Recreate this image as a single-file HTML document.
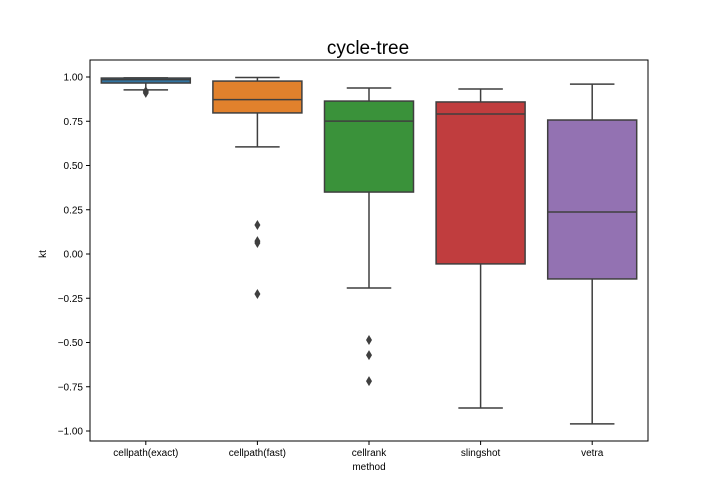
<!DOCTYPE html>
<html><head><meta charset="utf-8"><style>
body{margin:0;background:#fff}svg{display:block;font-family:"Liberation Sans",sans-serif}
</style></head><body>
<svg id="c" width="720" height="504">
<text x="368" y="54" font-size="19" text-anchor="middle">cycle-tree</text>
<text x="369" y="470" font-size="10" text-anchor="middle">method</text>
<text x="46" y="254" font-size="10" text-anchor="middle" transform="rotate(-90 46 254)">kt</text>
</svg>
<script>
const categories=["cellpath(exact)","cellpath(fast)","cellrank","slingshot","vetra"];
const whiskerLow=[0.927,0.605,-0.192,-0.870,-0.960];
const q1=[0.966,0.797,0.350,-0.056,-0.141];
const median=[0.985,0.872,0.751,0.791,0.237];
const q3=[0.994,0.977,0.864,0.859,0.757];
const whiskerHigh=[0.995,0.997,0.938,0.932,0.960];
const outliers=[[0.92,0.91],[0.164,0.073,0.062,-0.226],[-0.486,-0.571,-0.718],[],[]];
const yTicks=[-1,-0.75,-0.5,-0.25,0,0.25,0.5,0.75,1];
const colors=["#3274a1","#e1812c","#3a923a","#c03d3e","#9372b2"];
const L=90,R=648,T=60,B=441;
const y=v=>254-v*177;
const bw=(R-L)/categories.length;
const x=i=>L+bw*(i+0.5);
const svg=document.getElementById('c');
const NS="http://www.w3.org/2000/svg";
function mk(t,a,p){const e=document.createElementNS(NS,t);for(const k in a)e.setAttribute(k,a[k]);(p||svg).appendChild(e);return e;}
const ln="#3f3f3f";
yTicks.forEach(v=>{
 const t=mk('line',{x1:L-4,x2:L,y1:y(v),y2:y(v),stroke:'#000'});
 
 
 const lb=mk('text',{x:L-7,y:y(v)+3.5,'font-size':10,'text-anchor':'end'});
 lb.textContent=v.toFixed(2).replace('-','\u2212');
 
 
});
categories.forEach((c,i)=>{
 const cx=x(i),w=89,g=mk('g',{});
 
 
 mk('line',{x1:cx,x2:cx,y1:y(whiskerLow[i]),y2:y(q1[i]),stroke:ln,'stroke-width':1.5},g);
 mk('line',{x1:cx,x2:cx,y1:y(whiskerHigh[i]),y2:y(q3[i]),stroke:ln,'stroke-width':1.5},g);
 mk('line',{x1:cx-w/4,x2:cx+w/4,y1:y(whiskerLow[i]),y2:y(whiskerLow[i]),stroke:ln,'stroke-width':1.5},g);
 mk('line',{x1:cx-w/4,x2:cx+w/4,y1:y(whiskerHigh[i]),y2:y(whiskerHigh[i]),stroke:ln,'stroke-width':1.5},g);
 mk('rect',{x:cx-w/2,y:y(q3[i]),width:w,height:y(q1[i])-y(q3[i]),fill:colors[i],stroke:ln,'stroke-width':1.5},g);
 mk('line',{x1:cx-w/2,x2:cx+w/2,y1:y(median[i]),y2:y(median[i]),stroke:ln,'stroke-width':1.5},g);
 outliers[i].forEach(v=>{
  const p=mk('path',{d:`M${cx} ${y(v)-5}L${cx+3} ${y(v)}L${cx} ${y(v)+5}L${cx-3} ${y(v)}Z`,fill:ln},g);
  
  
 });
 mk('line',{x1:cx,x2:cx,y1:B,y2:B+4,stroke:'#000'});
 const lb=mk('text',{x:cx,y:B+15,'font-size':10,'text-anchor':'middle'});
 lb.textContent=c;
 
 
});
const fr=mk('rect',{x:L,y:T,width:R-L,height:B-T,fill:'none',stroke:'#000','stroke-width':1});


</script>
</body></html>
